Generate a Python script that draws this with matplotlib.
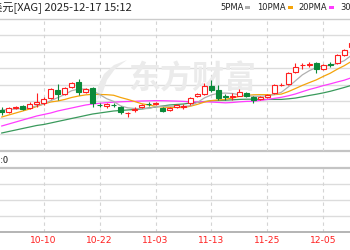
import matplotlib
matplotlib.use("Agg")
import matplotlib.pyplot as plt
from matplotlib.patches import Rectangle, Polygon
from matplotlib.transforms import Affine2D, blended_transform_factory

plt.rcParams['font.family'] = ['DejaVu Sans', 'Noto Sans CJK SC']

# daily candles (visible window)
dates = ["10-02", "10-03", "10-06", "10-07", "10-08", "10-09", "10-10",
         "10-13", "10-14", "10-15", "10-16", "10-17", "10-20", "10-21",
         "10-22", "10-23", "10-24", "10-27", "10-28", "10-29", "10-30",
         "10-31", "11-03", "11-04", "11-05", "11-06", "11-07", "11-10",
         "11-11", "11-12", "11-13", "11-14", "11-17", "11-18", "11-19",
         "11-20", "11-21", "11-24", "11-25", "11-26", "11-27", "11-28",
         "12-01", "12-02", "12-03", "12-04", "12-05", "12-08", "12-09",
         "12-10", "12-11"]
opens = [46.25, 45.82, 46.75, 47.25, 46.68, 47.75, 47.93, 49.18, 51.25, 50.25,
         52.08, 53.33, 50.68, 51.68, 47.58, 47.25, 47.58, 47.08, 45.43, 46.18,
         47.08, 47.83, 47.75, 46.68, 46.25, 46.93, 47.00, 48.08, 49.75, 50.18,
         52.33, 51.25, 49.68, 49.50, 49.83, 50.43, 49.58, 49.08, 49.50, 50.58,
         52.43, 52.68, 55.68, 57.43, 57.58, 57.93, 56.50, 57.75, 57.93, 60.00,
         62.08]
highs = [47.00, 47.08, 47.25, 47.43, 48.33, 50.43, 49.58, 51.68, 52.75, 52.08,
         53.33, 53.93, 51.68, 52.08, 48.08, 48.00, 48.08, 47.33, 45.83, 47.08,
         47.75, 48.18, 48.33, 46.93, 46.93, 47.75, 47.68, 49.43, 50.43, 52.93,
         53.75, 52.50, 50.18, 50.43, 51.50, 50.68, 49.83, 49.83, 50.25, 52.75,
         53.00, 55.68, 58.08, 58.08, 58.25, 58.33, 57.75, 58.25, 60.25, 61.50,
         63.50]
lows = [45.00, 45.57, 46.58, 46.33, 46.58, 47.08, 47.50, 48.93, 48.75, 50.00,
        51.68, 50.00, 50.43, 47.08, 46.93, 46.75, 46.93, 45.33, 44.50, 45.83,
        46.83, 47.25, 47.50, 45.83, 46.00, 46.68, 46.50, 47.50, 49.50, 49.93,
        50.83, 48.75, 48.75, 48.75, 49.75, 49.58, 47.93, 48.83, 49.25, 50.33,
        52.25, 52.43, 55.43, 56.43, 57.08, 55.58, 56.25, 57.08, 57.68, 59.75,
        61.83]
closes = [45.75, 46.82, 47.08, 46.50, 47.75, 48.33, 48.93, 51.43, 50.18, 51.83,
          53.08, 50.83, 51.43, 47.93, 47.43, 47.75, 47.43, 45.83, 45.58, 46.58,
          47.50, 47.68, 48.08, 46.08, 46.68, 47.50, 47.18, 49.18, 50.18, 52.33,
          51.25, 49.18, 49.50, 49.68, 50.68, 49.83, 48.75, 49.58, 50.00, 52.50,
          52.58, 55.43, 57.08, 57.58, 57.75, 56.50, 57.50, 57.58, 60.00, 61.25,
          63.08]

# moving averages as drawn on the chart
ma5 = [46.25, 46.38, 46.50, 46.63, 46.78, 47.30, 47.73, 48.58, 49.33, 50.13,
       51.08, 51.48, 51.48, 51.03, 50.13, 49.08, 48.40, 47.28, 46.80, 46.63,
       46.58, 46.63, 47.08, 47.18, 47.20, 47.20, 47.10, 47.33, 48.15, 49.28,
       50.03, 50.43, 50.48, 50.38, 50.05, 49.78, 49.68, 49.70, 49.78, 50.13,
       50.68, 52.03, 53.53, 55.03, 56.08, 56.88, 57.28, 57.38, 57.88, 58.58,
       59.88]
ma10 = [44.50, 45.00, 45.50, 46.00, 46.50, 47.13, 47.75, 48.25, 48.50, 48.88,
        49.38, 49.75, 50.03, 50.18, 50.13, 50.08, 49.94, 49.38, 48.91, 48.38,
        47.83, 47.51, 47.18, 46.99, 46.91, 46.89, 46.86, 47.20, 47.66, 48.24,
        48.61, 48.76, 48.90, 49.26, 49.66, 49.90, 50.05, 50.09, 50.08, 50.09,
        50.23, 50.85, 51.61, 52.40, 53.10, 53.78, 54.65, 55.45, 56.45, 57.33,
        58.38]
ma20 = [42.25, 42.75, 43.25, 43.75, 44.25, 44.75, 45.13, 45.50, 46.00, 46.38,
        46.75, 47.13, 47.50, 47.75, 47.93, 48.08, 48.20, 48.30, 48.38, 48.41,
        48.51, 48.55, 48.60, 48.58, 48.53, 48.48, 48.40, 48.29, 48.29, 48.30,
        48.23, 48.14, 48.04, 48.13, 48.29, 48.40, 48.45, 48.65, 48.88, 49.16,
        49.43, 49.80, 50.25, 50.83, 51.38, 51.84, 52.35, 52.78, 53.26, 53.70,
        54.30]
ma30 = [40.50, 40.88, 41.25, 41.63, 42.00, 42.38, 42.63, 43.00, 43.38, 43.75,
        44.13, 44.50, 44.88, 45.25, 45.50, 45.75, 46.00, 46.13, 46.25, 46.38,
        46.50, 46.75, 47.00, 47.25, 47.50, 47.63, 47.75, 48.00, 48.18, 48.35,
        48.55, 48.63, 48.70, 48.80, 48.90, 48.95, 48.95, 48.90, 48.89, 48.90,
        48.90, 49.04, 49.23, 49.55, 49.89, 50.19, 50.53, 50.93, 51.40, 51.88,
        52.40]

tick_labels = ["09-30", "10-10", "10-22", "11-03", "11-13", "11-25", "12-05"]
title_text = "白银美元[XAG] 2025-12-17 15:12"
legend_names = ["5PMA", "10PMA", "20PMA", "30PMA"]
sub_label = "成交量:0"

RED = "#ff1f1f"
GREEN = "#0b8a3a"
ma_colors = ["#b0b0b0", "#f5a40a", "#ff3cff", "#3a9a5c"]
GRID = "#dcdcdc"
W, H = 350, 250


def fpos(x, y):
    # pixel (from top-left) -> figure fraction
    return x / W, 1 - y / H


fig = plt.figure(figsize=(3.5, 2.5), dpi=100)
pix = Affine2D().scale(1 / W, -1 / H).translate(0, 1) + fig.transFigure

# main price panel
top, bot = 19, 150.6
ax = fig.add_axes([0, 1 - bot / H, 1, (bot - top) / H])
ax.set_xlim(-0.25, 49.82)
ax.set_ylim(36.1, 69.0)
ax.axis("off")

# lower panel (empty)
ax2 = fig.add_axes([0, 1 - 232 / H, 1, 64 / H])
ax2.set_xlim(-0.25, 49.82)
ax2.set_ylim(0, 1)
ax2.axis("off")

# grid lines
for k in range(1, 8):
    ax.plot([0, 1], [k / 8, k / 8], transform=ax.transAxes, color=GRID, lw=1, zorder=0.3)
ax.plot([0, 1], [1, 1], transform=ax.transAxes, color="#cccccc", lw=1, zorder=0.3,
        clip_on=False)
ax.plot([0, 1], [0, 0], transform=ax.transAxes, color="#c4c4c4", lw=1.6,
        clip_on=False, zorder=0.3)
for k in (0.25, 0.5, 0.75):
    ax2.plot([0, 1], [k, k], transform=ax2.transAxes, color=GRID, lw=1, zorder=0.3)
ax2.plot([0, 1], [1, 1], transform=ax2.transAxes, color="#c4c4c4", lw=1.6,
         clip_on=False)
ax2.plot([0, 1], [0, 0], transform=ax2.transAxes, color="#a8a8a8", lw=1.2,
         clip_on=False)

first = dates.index(tick_labels[1])
tick_idx = [first - 8 + 8 * k for k in range(len(tick_labels))]
for t, lbl in zip(tick_idx, tick_labels):
    ax.axvline(t, color="#d4d4d4", lw=0.8, ls=(0, (3, 3)), zorder=0.4)
    ax2.axvline(t, color="#d4d4d4", lw=0.8, ls=(0, (3, 3)), zorder=0.4)
    ax2.text(t, -0.14, lbl, transform=blended_transform_factory(ax2.transData, ax2.transAxes),
             ha="center", va="center", color=RED, fontsize=6.6, clip_on=False)

# watermark
ax.text(192, 80, "东方财富", transform=pix, fontsize=23, color="#ebebeb",
        ha="center", va="center", weight="bold", family="Noto Sans CJK SC", zorder=0.5)
ax.add_patch(Polygon([(127, 60), (114, 65), (104, 74), (98, 86), (97, 100),
                      (103, 92), (107, 80), (115, 69)], closed=True,
                     transform=pix, facecolor="#ebebeb", edgecolor="none", zorder=0.5))

# moving averages
xs = list(range(len(dates)))
for vals, col in zip([ma30, ma20, ma10, ma5], ma_colors[::-1]):
    ax.plot(xs, vals, color=col, lw=0.9, zorder=2)

# candles
for i in xs:
    o, h, l, c = opens[i], highs[i], lows[i], closes[i]
    up = c >= o
    col = RED if up else GREEN
    ax.vlines(i, l, h, color=col, lw=0.8, zorder=3)
    b = min(o, c)
    hgt = max(abs(c - o), 0.06)
    ax.add_patch(Rectangle((i - 0.34, b), 0.68, hgt, facecolor="white" if up else GREEN,
                           edgecolor=col, lw=0.8, zorder=4))

# header text
fig.text(*fpos(132, 8), title_text, ha="right", va="center", fontsize=8,
         family=["Noto Sans CJK SC", "DejaVu Sans"], color="#222222")
leg_x = [220, 257, 298, 340]
for x0, name, col in zip(leg_x, legend_names, ma_colors):
    fig.text(*fpos(x0, 8), name, ha="left", va="center", fontsize=6,
             color="#222222")
    mx = x0 + 5.6 * len(name) + 3
    fig.patches.append(Rectangle((mx, 6), 5, 3, transform=pix, facecolor=col,
                                 edgecolor="none"))
fig.text(*fpos(8.5, 160), sub_label, ha="right", va="center", fontsize=6.6,
         family=["Noto Sans CJK SC", "DejaVu Sans"], color="#222222")

fig.savefig("out.png", dpi=100)
plt.close(fig)
